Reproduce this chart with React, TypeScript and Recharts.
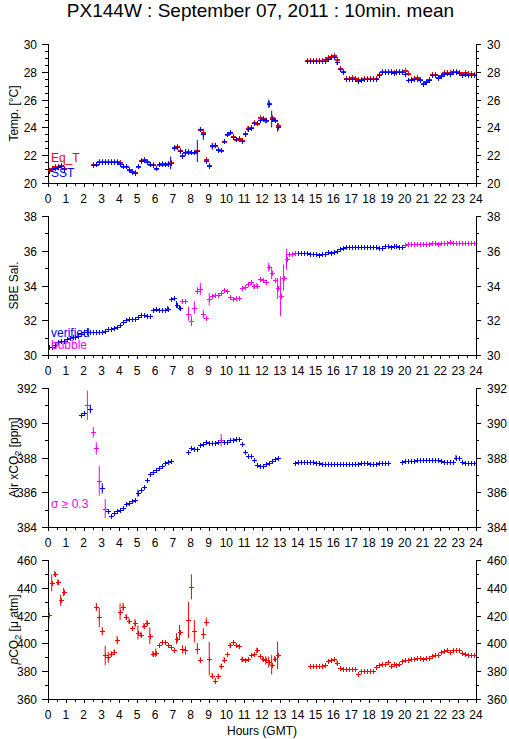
import React from 'react';
import { ComposedChart, Scatter, XAxis, YAxis, ErrorBar } from 'recharts';

const _ = null;
const FONT = '"Liberation Sans", Arial, Helvetica, sans-serif';
const RED = '#ff0000';
const BLUE = '#0000ff';
const MAGENTA = '#ff00ff';

// one value per 10 minutes, 6 per row = 1 hour
const sst = [
  20.85, 21.0, 21.1, 21.15, 21.2, 21.0,
  _, _, _, _, _, _,
  _, _, _, 21.3, 21.35, 21.5,
  21.5, 21.5, 21.5, 21.5, 21.5, 21.5,
  21.4, 21.2, 21.2, 20.95, 20.8, 20.75,
  21.2, 21.6, 21.65, 21.5, 21.35, 21.3,
  21.05, 21.35, 21.4, 21.35, 21.4, 21.45,
  22.55, 22.6, 22.3, 21.95, 22.2, 22.25,
  22.2, 22.2, 22.3, 23.85, 23.5, 21.6,
  21.25, 22.65, 22.7, 22.4, 22.35, 23.0,
  23.5, 23.65, 23.3, 23.15, 23.2, 23.05,
  23.55, 23.9, 23.95, 24.35, 24.3, 24.55,
  24.6, 24.5, 25.7, 24.6, 24.5, 24.0,
  _, _, _, _, _, _,
  _, _, _, 28.75, 28.75, 28.75,
  28.75, 28.75, 28.75, 28.8, 28.95, 29.05,
  29.1, 28.7, 28.2, 27.95, 27.45, 27.45,
  27.5, 27.45, 27.35, 27.4, 27.45, 27.45,
  27.45, 27.45, 27.45, 27.8, 27.95, 27.95,
  27.95, 27.95, 27.9, 27.95, 27.95, 27.95,
  27.85, 27.4, 27.4, 27.45, 27.5, 27.4,
  27.1, 27.25, 27.4, 27.75, 27.75, 27.55,
  27.7, 27.85, 27.9, 27.85, 27.95, 27.95,
  27.9, 27.75, 27.85, 27.8, 27.8, 27.75,
];

const eqT = [
  20.95, 21.1, 21.2, 21.25, 21.3, 21.1,
  _, _, _, _, _, _,
  _, _, _, 21.35, 21.4, 21.55,
  21.55, 21.55, 21.55, 21.55, 21.55, 21.55,
  21.5, 21.25, 21.25, 21.0, 20.85, 20.8,
  21.25, 21.65, 21.7, 21.55, 21.4, 21.4,
  21.1, 21.4, 21.45, 21.4, 21.45, 21.5,
  22.6, 22.65, 22.35, 22.0, 22.25, 22.3,
  22.25, 22.25, 22.35, 23.9, 23.7, 21.75,
  21.3, 22.7, 22.75, 22.45, 22.4, 23.05,
  23.55, 23.7, 23.35, 23.2, 23.25, 23.1,
  23.6, 23.95, 24.0, 24.4, 24.35, 24.75,
  24.65, 24.55, 25.75, 24.75, 24.55, 24.15,
  _, _, _, _, _, _,
  _, _, _, 28.85, 28.85, 28.85,
  28.85, 28.85, 28.85, 28.9, 29.05, 29.15,
  29.2, 28.95, 28.3, 28.05, 27.55, 27.55,
  27.6, 27.55, 27.45, 27.5, 27.55, 27.55,
  27.55, 27.55, 27.55, 27.85, 28.05, 28.05,
  28.05, 28.05, 28.0, 28.05, 28.05, 28.05,
  28.1, 27.9, 27.5, 27.55, 27.6, 27.5,
  27.2, 27.35, 27.5, 27.85, 27.85, 27.6,
  27.8, 27.95, 28.0, 27.95, 28.05, 28.05,
  28.0, 27.85, 27.95, 27.9, 27.9, 27.85,
];

const sstErr: [number, number][] = [
  [41, 0.45], [46, 0.25], [50, 0.8], [51, 0.15], [52, 0.4], [55, 0.25], [56, 0.2],
  [67, 0.2], [73, 0.2], [74, 0.3], [75, 0.6], [77, 0.3], [97, 0.2],
];

const salinity = [
  30.45, 30.45, 30.6, 30.75, 30.8, 30.8,
  30.9, 31.0, 31.05, 31.05, 31.1, 31.2,
  31.3, 31.35, 31.3, 31.3, 31.3, 31.3,
  31.35, 31.4, 31.48, 31.48, 31.55, 31.6,
  31.75, 31.9, 32.0, 32.1, 32.08, 32.05,
  32.2, 32.32, 32.28, 32.22, 32.22, 32.6,
  32.62, 32.6, 32.58, 32.58, 32.67, 33.25,
  33.3, 32.9, 32.73, 33.1, 33.12, 32.38,
  31.96, 32.73, 33.7, 33.8, 32.35, 32.15,
  33.2, 33.4, 33.46, 33.48, 33.54, 33.73,
  33.67, 33.35, 33.21, 33.27, 33.27, 33.83,
  33.92, 34.08, 34.2, 33.96, 34.0, 34.4,
  34.3, 34.2, 35.05, 34.73, 34.3, 33.83,
  33.38, 34.46, 35.5, 35.8, 35.82, 35.85,
  35.87, 35.88, 35.88, 35.85, 35.82, 35.82,
  35.8, 35.78, 35.8, 35.82, 35.9, 35.88,
  35.9, 36.0, 36.1, 36.15, 36.22, 36.23,
  36.23, 36.23, 36.23, 36.23, 36.23, 36.23,
  36.23, 36.23, 36.2, 36.17, 36.18, 36.25,
  36.28, 36.2, 36.25, 36.25, 36.22, 36.23,
  36.35, 36.38, 36.4, 36.4, 36.4, 36.4,
  36.4, 36.4, 36.4, 36.42, 36.42, 36.4,
  36.45, 36.43, 36.47, 36.48, 36.45, 36.45,
  36.47, 36.47, 36.45, 36.45, 36.45, 36.44,
];

const salErr: [number, number][] = [
  [13, 0.2], [40, 0.15], [43, 0.2], [44, 0.15], [47, 0.4], [48, 0.3], [49, 0.35],
  [50, 0.2], [51, 0.35], [52, 0.25], [54, 0.35], [69, 0.15], [70, 0.15], [74, 0.25],
  [75, 0.35], [77, 0.6], [78, 1.15], [79, 0.75], [80, 0.6],
];

// index ranges flagged as "bubble"
const salBubbleRanges: [number, number][] = [[45, 83], [120, 143]];

const airXco2 = [
  _, _, _, _, _, _,
  _, _, _, _, _, 390.42,
  390.55, 391.0, 390.8, 389.45, 388.53, 386.66,
  386.22, 385.06, 384.9, 384.64, 384.8, 384.9,
  385.0, 385.12, 385.3, 385.4, 385.5, 385.53,
  385.95, 386.12, 386.28, 386.72, 387.05, 387.18,
  387.28, 387.38, 387.53, 387.66, 387.72, 387.8,
  _, _, _, _, _, 388.3,
  388.53, 388.5, 388.5, 388.72, 388.78, 388.92,
  388.82, 388.82, 388.82, 388.88, 389.0, 388.92,
  388.92, 388.98, 389.0, 389.05, 389.05, 388.76,
  388.34, 388.09, 388.09, 387.84, 387.57, 387.53,
  387.53, 387.6, 387.66, 387.8, 387.91, 388.0,
  _, _, _, _, _, 387.66,
  387.72, 387.72, 387.72, 387.72, 387.72, 387.72,
  387.66, 387.66, 387.64, 387.64, 387.62, 387.62,
  387.6, 387.6, 387.6, 387.62, 387.62, 387.62,
  387.64, 387.64, 387.64, 387.66, 387.66, 387.66,
  387.64, 387.64, 387.64, 387.66, 387.66, 387.66,
  387.68, _, _, _, _, 387.76,
  387.82, 387.82, 387.82, 387.82, 387.86, 387.86,
  387.86, 387.86, 387.86, 387.86, 387.86, 387.86,
  387.8, 387.76, 387.76, 387.76, 387.76, 388.0,
  387.95, 387.72, 387.7, 387.7, 387.7, 387.7,
];

const airErr: [number, number][] = [
  [13, 0.85], [14, 0.25], [15, 0.3], [16, 0.35], [17, 0.85], [18, 0.3], [19, 0.55],
  [30, 0.2], [58, 0.35], [137, 0.15],
];

// indices with sigma >= 0.3
const airFlagged = [13, 15, 16, 17, 19, 58];

const pco2 = [
  420.5, 443.5, 450, 444, 431, 437,
  _, _, _, _, _, _,
  _, _, _, _, 426.2, 418.7,
  408.8, 391.4, 390, 392.4, 393.8, 402.3,
  422.8, 426.2, 419.2, 416, 411.2, 414.6,
  407.8, 406.4, 412.7, 415, 405.4, 392.6,
  393.3, 398.6, 401, 401, 399.1, 397.2,
  395.5, 403.5, 408.3, 395.7, 395, 416.8,
  440.7, 408.8, 396.2, 388.3, 407.1, 415.6,
  389, 376.9, 373.3, 376.2, 383.4, 388.3,
  392.1, 398.6, 401, 398.6, 397.9, 388.5,
  387.8, 388.5, 391.4, 392.6, 395, 390.7,
  389, 387.8, 386.6, 384.6, 389, 391.4,
  _, _, _, _, _, _,
  _, _, _, _, 383.4, 383.4,
  383.4, 383.4, 383.4, 384.2, 387.3, 388,
  389, 386.1, 382.5, 381.3, 381.3, 381.3,
  381.3, 381.3, 378.1, 379.8, 380.5, 380.5,
  380.5, 380.5, 382.9, 384.2, 385.4, 385.4,
  386.6, 383.7, 384.9, 384.6, 384.9, 387.3,
  387.8, 388, 388.5, 389, 389.7, 389.7,
  388.5, 389.4, 389.7, 390.7, 391.9, 391.4,
  393.8, 394.3, 395, 393.8, 395, 395,
  395, 393.3, 392.1, 391.4, 391.4, 391.4,
];

const pco2Err: [number, number][] = [
  [0, 5], [1, 6], [2, 2], [3, 2], [4, 4], [5, 3], [16, 3], [17, 7], [18, 3], [19, 7],
  [20, 4], [21, 2], [22, 2], [23, 3], [24, 6], [25, 3], [26, 2], [27, 2], [29, 3],
  [30, 5], [31, 2], [32, 2], [33, 2], [34, 6], [35, 2], [36, 3], [43, 4], [44, 5],
  [45, 3], [46, 3], [47, 13], [48, 9], [49, 8], [50, 4], [51, 2], [52, 4], [53, 3],
  [54, 12], [55, 2], [56, 2], [57, 2], [58, 2], [59, 2], [61, 2], [65, 2], [70, 2],
  [72, 2], [73, 3], [74, 4], [75, 7], [76, 2], [77, 10], [97, 2],
];

const hourLabels = Array.from({ length: 25 }, (_x, i) => i);
const tempTicks = [20, 22, 24, 26, 28, 30];
const salTicks = [30, 32, 34, 36, 38];
const airTicks = [384, 386, 388, 390, 392];
const pco2Ticks = [360, 380, 400, 420, 440, 460];

type Pt = { h: number; v: number; e: number };

const range = (a: number, b: number, s: number) => {
  const out: number[] = [];
  for (let v = a; v <= b + 1e-9; v += s) out.push(Math.round(v * 1000) / 1000);
  return out;
};

const xTickValues = range(0, 24, 0.5);

function buildPoints(
  vals: (number | null)[],
  errs: [number, number][],
  pick?: (i: number) => boolean,
): Pt[] {
  const em = new Map(errs);
  const out: Pt[] = [];
  vals.forEach((v, i) => {
    if (v == null) return;
    if (pick && !pick(i)) return;
    out.push({ h: i / 6 + 1 / 24, v, e: em.get(i) ?? 0 });
  });
  return out;
}

const inBubble = (i: number) => salBubbleRanges.some(([a, b]) => i >= a && i <= b);

const crossShape = (color: string, lw = 1) => (p: any) => {
  if (p.cx == null || p.cy == null) return <g />;
  const x = Math.round(p.cx);
  const y = Math.round(p.cy);
  return (
    <g shapeRendering="crispEdges">
      <line x1={x - 2} x2={x + 3} y1={y + 0.5} y2={y + 0.5} stroke={color} strokeWidth={lw} />
      <line x1={x + 0.5} x2={x + 0.5} y1={y - 2} y2={y + 3} stroke={color} strokeWidth={1} />
    </g>
  );
};

const xTick = (side: 'top' | 'bottom') => (p: any) => {
  const { x, y, payload } = p;
  const v = payload.value as number;
  const major = Math.abs(v - Math.round(v)) < 1e-6;
  const px = Math.round(x) + 0.5;
  const dir = side === 'bottom' ? 1 : -1;
  const len = side === 'bottom' ? (major ? 4 : 3) : 3;
  return (
    <g>
      <line x1={px} x2={px} y1={y} y2={y + dir * len} stroke="#000" shapeRendering="crispEdges" />
      {side === 'bottom' && major && (
        <text x={x} y={y + 20} textAnchor="middle" fontSize={12} fontFamily={FONT} fill="#000">
          {v}
        </text>
      )}
    </g>
  );
};

const yTick = (side: 'left' | 'right', majors: number[]) => (p: any) => {
  const { x, y, payload } = p;
  const v = payload.value as number;
  const major = majors.some((m) => Math.abs(m - v) < 1e-6);
  const dir = side === 'left' ? -1 : 1;
  const len = major ? (side === 'left' ? 6 : 5) : 3;
  const py = Math.round(y) + 0.5;
  return (
    <g>
      <line x1={x} x2={x + dir * len} y1={py} y2={py} stroke="#000" shapeRendering="crispEdges" />
      {major && (
        <text
          x={x + dir * 11}
          y={py}
          dy="0.36em"
          textAnchor={side === 'left' ? 'end' : 'start'}
          fontSize={12}
          fontFamily={FONT}
          fill="#000"
        >
          {v}
        </text>
      )}
    </g>
  );
};

type Series = { key: string; points: Pt[]; color: string; lw?: number };

function Panel(props: {
  top: number;
  domain: [number, number];
  majors: number[];
  minorStep: number;
  series: Series[];
}) {
  const { top, domain, majors, minorStep, series } = props;
  const yTicks = range(domain[0], domain[1], minorStep);
  const axisLine = { stroke: '#000', strokeWidth: 1, shapeRendering: 'crispEdges' } as any;
  return (
    <div style={{ position: 'absolute', left: 0, top: top - 10 }}>
      <ComposedChart width={509} height={179} margin={{ top: 10, right: 0, bottom: 0, left: 0 }}>
        <XAxis
          xAxisId="b"
          dataKey="h"
          type="number"
          domain={[0, 24]}
          ticks={xTickValues}
          interval={0}
          allowDataOverflow
          tickLine={false}
          tickSize={0}
          tickMargin={0}
          height={30}
          axisLine={axisLine}
          tick={xTick('bottom')}
        />
        <XAxis
          xAxisId="t"
          orientation="top"
          type="number"
          domain={[0, 24]}
          ticks={xTickValues}
          interval={0}
          allowDataOverflow
          tickLine={false}
          tickSize={0}
          tickMargin={0}
          height={0}
          axisLine={axisLine}
          tick={xTick('top')}
        />
        <YAxis
          yAxisId="l"
          dataKey="v"
          type="number"
          domain={domain}
          ticks={yTicks}
          interval={0}
          allowDataOverflow
          tickLine={false}
          tickSize={0}
          tickMargin={0}
          width={48}
          axisLine={axisLine}
          tick={yTick('left', majors)}
        />
        <YAxis
          yAxisId="r"
          orientation="right"
          type="number"
          domain={domain}
          ticks={yTicks}
          interval={0}
          allowDataOverflow
          tickLine={false}
          tickSize={0}
          tickMargin={0}
          width={33}
          axisLine={axisLine}
          tick={yTick('right', majors)}
        />
        {series.map((s) => (
          <Scatter
            key={s.key}
            xAxisId="b"
            yAxisId="l"
            data={s.points}
            dataKey="v"
            shape={crossShape(s.color, s.lw)}
            isAnimationActive={false}
            legendType="none"
          >
            <ErrorBar
              dataKey="e"
              direction="y"
              width={0}
              stroke={s.color}
              strokeWidth={1}
              isAnimationActive={false}
            />
          </Scatter>
        ))}
      </ComposedChart>
    </div>
  );
}

export default function App() {
  const tempSeries: Series[] = [
    { key: 'eqT', points: buildPoints(eqT, []), color: RED, lw: 2 },
    { key: 'sst', points: buildPoints(sst, sstErr), color: BLUE },
  ];
  const salSeries: Series[] = [
    { key: 'verified', points: buildPoints(salinity, salErr, (i) => !inBubble(i)), color: BLUE },
    { key: 'bubble', points: buildPoints(salinity, salErr, inBubble), color: MAGENTA },
  ];
  const airSeries: Series[] = [
    { key: 'air', points: buildPoints(airXco2, airErr, (i) => !airFlagged.includes(i)), color: BLUE },
    { key: 'airHi', points: buildPoints(airXco2, airErr, (i) => airFlagged.includes(i)), color: MAGENTA },
  ];
  const pco2Series: Series[] = [{ key: 'pco2', points: buildPoints(pco2, pco2Err), color: RED }];

  const label = (txt: React.ReactNode, cy: number) => (
    <text
      transform={`translate(14, ${cy}) rotate(-90)`}
      textAnchor="middle"
      dy="0.36em"
      fontSize={12}
      fontFamily={FONT}
      fill="#000"
    >
      {txt}
    </text>
  );

  return (
    <div
      style={{
        position: 'absolute',
        left: 0,
        top: 0,
        width: 509,
        height: 739,
        background: '#fff',
        overflow: 'hidden',
        fontFamily: FONT,
      }}
    >
      <Panel top={44} domain={[20, 30]} majors={tempTicks} minorStep={0.5} series={tempSeries} />
      <Panel top={216} domain={[30, 38]} majors={salTicks} minorStep={1} series={salSeries} />
      <Panel top={388} domain={[384, 392]} majors={airTicks} minorStep={1} series={airSeries} />
      <Panel top={560} domain={[360, 460]} majors={pco2Ticks} minorStep={10} series={pco2Series} />
      <svg
        width={509}
        height={739}
        style={{ position: 'absolute', left: 0, top: 0, pointerEvents: 'none' }}
      >
        <text x={260.5} y={17} textAnchor="middle" fontSize={19} fontFamily={FONT} fill="#000">
          PX144W : September 07, 2011 : 10min. mean
        </text>
        {label('Temp. [°C]', 113.5)}
        {label('SBE Sal.', 285.5)}
        {label(
          <>
            Air xCO<tspan fontSize={9} dy={3}>2</tspan>
            <tspan dy={-3}> [ppm]</tspan>
          </>,
          457.5,
        )}
        {label(
          <>
            <tspan fontStyle="italic">p</tspan>CO<tspan fontSize={9} dy={3}>2</tspan>
            <tspan dy={-3}> [μ atm]</tspan>
          </>,
          629.5,
        )}
        <text x={51} y={162} fontSize={12} fontFamily={FONT} fill={RED}>Eq_T</text>
        <text x={51} y={177} fontSize={12} fontFamily={FONT} fill={BLUE}>SST</text>
        <text x={51} y={336.5} fontSize={12} fontFamily={FONT} fill={BLUE}>verified</text>
        <text x={51} y={349} fontSize={12} fontFamily={FONT} fill={MAGENTA}>bubble</text>
        <text x={51} y={508} fontSize={12} fontFamily={FONT} fill={MAGENTA}>σ ≥ 0.3</text>
        <text x={262} y={735} textAnchor="middle" fontSize={12} fontFamily={FONT} fill="#000">
          Hours (GMT)
        </text>
        {hourLabels.length === 0 && null}
      </svg>
    </div>
  );
}
